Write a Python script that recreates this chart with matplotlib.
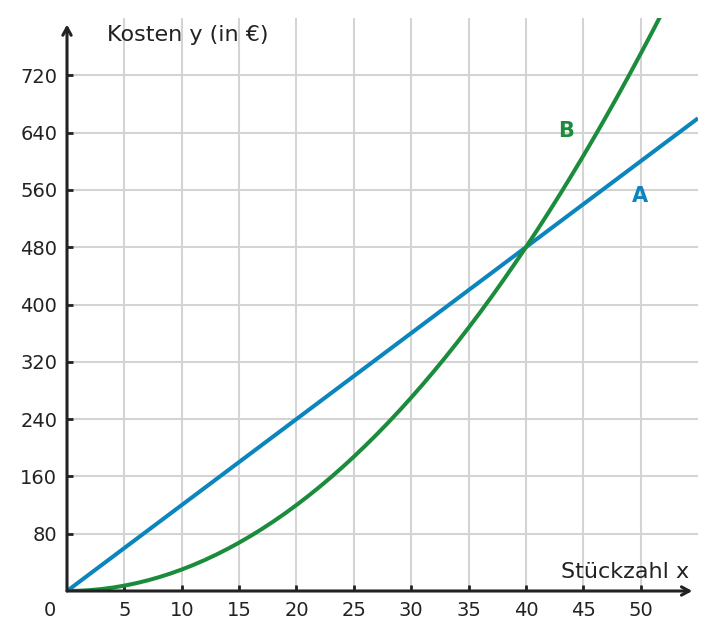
import matplotlib.pyplot as plt

# Stückzahl x and costs
x_a = [0, 55]
y_a = [0, 660]

x_b = list(range(0, 53))
y_b = [0, 0.3, 1.2, 2.7, 4.8, 7.5, 10.8, 14.7, 19.2, 24.3,
       30, 36.3, 43.2, 50.7, 58.8, 67.5, 76.8, 86.7, 97.2, 108.3,
       120, 132.3, 145.2, 158.7, 172.8, 187.5, 202.8, 218.7, 235.2, 252.3,
       270, 288.3, 307.2, 326.7, 346.8, 367.5, 388.8, 410.7, 433.2, 456.3,
       480, 504.3, 529.2, 554.7, 580.8, 607.5, 634.8, 662.7, 691.2, 720.3,
       750, 780.3, 811.2]

xticks = [5, 10, 15, 20, 25, 30, 35, 40, 45, 50]
yticks = [80, 160, 240, 320, 400, 480, 560, 640, 720]

blue = '#0b85bb'
green = '#1b8c3c'
dark = '#222222'
fs = 14
fl = 16

fig = plt.figure(figsize=(7.16, 6.4), dpi=100)
ax = fig.add_axes([67 / 716, 49 / 640, 631 / 716, 573 / 640])
ax.set_xlim(0, 55)
ax.set_ylim(0, 800)

ax.set_xticks(xticks)
ax.set_yticks(yticks)
ax.grid(True, color='#d4d4d4', linewidth=1.5)
ax.set_axisbelow(True)
for s in ax.spines.values():
    s.set_visible(False)
ax.tick_params(direction='in', length=4, width=2, color=dark,
               labelsize=fs, labelcolor=dark)
ax.tick_params(axis='x', pad=7)
ax.tick_params(axis='y', pad=7)

ax.plot(x_a, y_a, color=blue, lw=2.9, solid_capstyle='butt', zorder=3)
ax.plot(x_b, y_b, color=green, lw=2.9, solid_capstyle='butt', zorder=4)

# axes with arrow heads
arrow = dict(arrowstyle='->,head_length=0.55,head_width=0.3', color=dark,
             lw=2.2, shrinkA=0, shrinkB=0)
ax.annotate('', xy=(54.5, 0), xytext=(0, 0), arrowprops=arrow,
            annotation_clip=False, zorder=5)
ax.annotate('', xy=(0, 791), xytext=(0, 0), arrowprops=arrow,
            annotation_clip=False, zorder=5)

ax.annotate('0', xy=(0, 0), xytext=(-12.5, -14), textcoords='offset points',
            ha='center', va='center', fontsize=fs, color=dark,
            annotation_clip=False)
ax.text(3.5, 776, 'Kosten y (in €)', ha='left', va='center',
        fontsize=fl, color=dark)
ax.text(54.2, 26.5, 'Stückzahl x', ha='right', va='center',
        fontsize=fl, color=dark)
ax.text(49.9, 551, 'A', ha='center', va='center', fontsize=15,
        fontweight='bold', color=blue)
ax.text(43.5, 642, 'B', ha='center', va='center', fontsize=15,
        fontweight='bold', color=green)

fig.savefig('out.png', dpi=100)
